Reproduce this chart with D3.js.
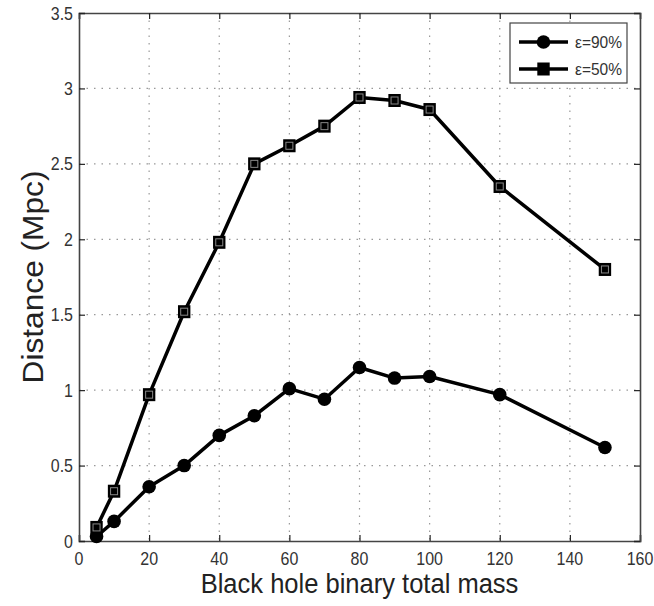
<!DOCTYPE html>
<html><head><meta charset="utf-8">
<script src="https://cdn.jsdelivr.net/npm/d3@7"></script>
<style>body{margin:0;background:#fff}</style>
</head><body>
<svg id="c" width="654" height="606"></svg>
<script>
const masses = [5,10,20,30,40,50,60,70,80,90,100,120,150];
const eps90 = [0.03,0.13,0.36,0.50,0.70,0.83,1.01,0.94,1.15,1.08,1.09,0.97,0.62];
const eps50 = [0.09,0.33,0.97,1.52,1.98,2.50,2.62,2.75,2.94,2.92,2.86,2.35,1.80];
const seriesNames = ["\u03b5=90%","\u03b5=50%"];
const xTicks = [0,20,40,60,80,100,120,140,160];
const yTicks = [0,0.5,1,1.5,2,2.5,3,3.5];
const xTitle = "Black hole binary total mass";
const yTitle = "Distance (Mpc)";

const L=79,R=640,T=13,B=541;
const svg=d3.select("#c");
const x=d3.scaleLinear().domain([0,160]).range([L,R]);
const y=d3.scaleLinear().domain([0,3.5]).range([B,T]);
const font="Liberation Sans, Arial, sans-serif";

// grid
const g=svg.append("g");
g.selectAll(".gx").data(xTicks.slice(1,-1)).join("line")
 .attr("x1",d=>x(d)).attr("x2",d=>x(d)).attr("y1",T).attr("y2",B)
 .attr("stroke","#999").attr("stroke-width",1.2).attr("stroke-dasharray","1.5,6");
g.selectAll(".gy").data(yTicks.slice(1,-1)).join("line")
 .attr("y1",d=>y(d)).attr("y2",d=>y(d)).attr("x1",L).attr("x2",R)
 .attr("stroke","#999").attr("stroke-width",1.2).attr("stroke-dasharray","1.5,6");

// axes (ticks only; labels drawn below)
const ax=svg.append("g").attr("transform",`translate(0,${B})`)
 .call(d3.axisBottom(x).tickValues(xTicks).tickSize(-6).tickFormat(""));
const axT=svg.append("g").attr("transform",`translate(0,${T})`)
 .call(d3.axisTop(x).tickValues(xTicks).tickSize(-6).tickFormat(""));
const ay=svg.append("g").attr("transform",`translate(${L},0)`)
 .call(d3.axisLeft(y).tickValues(yTicks).tickSize(-6).tickFormat(""));
const ayR=svg.append("g").attr("transform",`translate(${R},0)`)
 .call(d3.axisRight(y).tickValues(yTicks).tickSize(-6).tickFormat(""));
[ax,axT,ay,ayR].forEach(a=>{
  a.select(".domain").attr("stroke","#444").attr("stroke-width",1.6);
  a.selectAll(".tick line").attr("stroke","#222").attr("stroke-width",1.2);
});

// tick labels
svg.append("g").selectAll("text").data(xTicks).join("text")
 .attr("transform",d=>`translate(${x(d)},565) scale(1,1.15)`)
 .attr("text-anchor","middle").attr("font-family",font).attr("font-size",16).attr("fill","#333")
 .text(d=>d3.format("d")(d));
svg.append("g").selectAll("text").data(yTicks).join("text")
 .attr("transform",d=>`translate(73,${y(d)+6.5}) scale(1,1.15)`)
 .attr("text-anchor","end").attr("font-family",font).attr("font-size",16).attr("fill","#333")
 .text(d=>d3.format("")(d));

// lines
const line=d3.line().x((d,i)=>x(masses[i])).y(d=>y(d));
[eps90,eps50].forEach(s=>{
  svg.append("path").datum(s).attr("d",line).attr("fill","none")
   .attr("stroke","#000").attr("stroke-width",3.5).attr("stroke-linejoin","round");
});
svg.append("g").selectAll("circle").data(eps90).join("circle")
 .attr("cx",(d,i)=>x(masses[i])).attr("cy",d=>y(d)).attr("r",6.8).attr("fill","#000");
const sq=svg.append("g").selectAll("g").data(eps50).join("g")
 .attr("transform",(d,i)=>`translate(${x(masses[i])},${y(d)})`);
sq.append("rect").attr("x",-6.2).attr("y",-6.5).attr("width",12.4).attr("height",13).attr("fill","#000");
sq.append("rect").attr("x",-3.5).attr("y",-3.5).attr("width",7).attr("height",7).attr("fill","none").attr("stroke","#888").attr("stroke-width",1);

// titles
const xt=svg.append("text").attr("text-anchor","middle")
 .attr("font-family",font).attr("font-size",25).attr("fill","#222").text(xTitle);
const xw=xt.node().getComputedTextLength();
xt.attr("transform",`translate(${(L+R)/2},593) scale(${318/xw},1.1)`);
const yt=svg.append("text").attr("text-anchor","middle")
 .attr("font-family",font).attr("font-size",26).attr("fill","#222").text(yTitle);
const yw=yt.node().getComputedTextLength();
yt.attr("transform",`translate(43,${(T+B)/2}) rotate(-90) scale(${213/yw},1.1)`);

// legend
const lg=svg.append("g");
lg.append("rect").attr("x",510).attr("y",23).attr("width",117).attr("height",60)
 .attr("fill","#fff").attr("stroke","#444").attr("stroke-width",1.2);
seriesNames.forEach((n,i)=>{
  const yy=42+i*27;
  lg.append("line").attr("x1",519).attr("x2",568).attr("y1",yy).attr("y2",yy).attr("stroke","#000").attr("stroke-width",3.5);
  if(i===0) lg.append("circle").attr("cx",543.5).attr("cy",yy).attr("r",6.8).attr("fill","#000");
  else lg.append("rect").attr("x",537.3).attr("y",yy-6.5).attr("width",12.4).attr("height",13).attr("fill","#000");
  const t=lg.append("text").attr("font-family",font).attr("font-size",15).attr("fill","#333").text(n);
  const w=t.node().getComputedTextLength();
  t.attr("transform",`translate(575,${yy+6}) scale(${47/w},1.1)`);
});
</script>
</body></html>
